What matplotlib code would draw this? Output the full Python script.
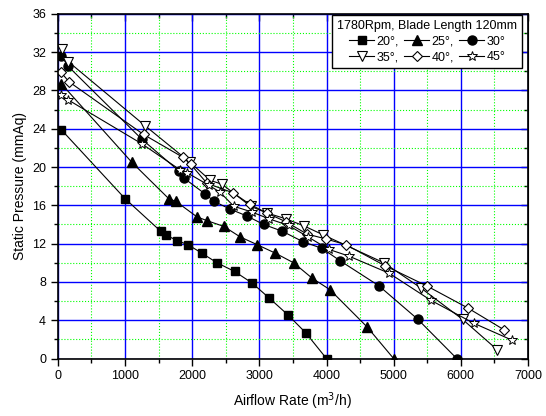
import matplotlib
matplotlib.use('Agg')
import matplotlib.pyplot as plt
from matplotlib.ticker import MultipleLocator

plt.rcParams['font.family'] = ['Liberation Sans', 'DejaVu Sans']

# 20 deg (filled square)
x20 = [50, 1000, 1530, 1610, 1780, 1935, 2145, 2370, 2630, 2890, 3150, 3420, 3690, 4000]
y20 = [23.9, 16.7, 13.3, 12.9, 12.3, 11.9, 11.0, 10.0, 9.1, 7.9, 6.3, 4.6, 2.7, 0.0]

# 25 deg (filled triangle up)
x25 = [50, 1100, 1650, 1760, 2070, 2220, 2470, 2715, 2965, 3240, 3510, 3785, 4050, 4605, 5000]
y25 = [28.7, 20.5, 16.7, 16.4, 14.8, 14.4, 13.8, 12.7, 11.9, 11.0, 10.0, 8.4, 7.2, 3.3, 0.0]

# 30 deg (filled circle)
x30 = [50, 155, 1250, 1800, 1885, 2190, 2330, 2565, 2810, 3065, 3340, 3650, 3935, 4205, 4780, 5360, 5940]
y30 = [31.6, 30.5, 22.9, 19.6, 18.8, 17.2, 16.4, 15.6, 14.9, 14.0, 13.3, 12.2, 11.5, 10.2, 7.6, 4.1, 0.0]

# 35 deg (open triangle down)
x35 = [55, 155, 1300, 1965, 2270, 2445, 2870, 3115, 3390, 3665, 3955, 4855, 5400, 6025, 6545]
y35 = [32.3, 31.0, 24.3, 20.5, 18.6, 18.2, 15.9, 15.2, 14.6, 13.85, 12.9, 10.0, 7.4, 4.1, 0.9]

# 40 deg (open diamond)
x40 = [45, 165, 1275, 1865, 1975, 2220, 2610, 2860, 3110, 3390, 3710, 3985, 4285, 4870, 5490, 6100, 6645]
y40 = [29.9, 28.9, 23.4, 21.0, 20.3, 18.3, 17.3, 16.1, 15.2, 14.3, 13.0, 12.5, 11.9, 9.7, 7.6, 5.3, 3.0]

# 45 deg (open star)
x45 = [45, 155, 1255, 1820, 1925, 2245, 2410, 2620, 2890, 3140, 3435, 3725, 4035, 4333, 4935, 5550, 6190, 6755]
y45 = [27.5, 27.0, 22.4, 19.7, 19.4, 18.1, 17.4, 15.9, 15.3, 14.6, 13.9, 12.7, 11.4, 10.7, 8.9, 6.1, 3.7, 1.95]

fig = plt.figure(figsize=(5.46, 4.16), dpi=100)
ax = fig.add_axes([0.106, 0.138, 0.861, 0.829])

h20, = ax.plot(x20, y20, color='black', lw=0.8, marker='s', ms=5.8, mfc='black', mec='black', label='20°,')
h25, = ax.plot(x25, y25, color='black', lw=0.8, marker='^', ms=6.5, mfc='black', mec='black', label='25°,')
h30, = ax.plot(x30, y30, color='black', lw=0.8, marker='o', ms=6.5, mfc='black', mec='black', label='30°')
h35, = ax.plot(x35, y35, color='black', lw=0.8, marker='v', ms=6.5, mfc='white', mec='black', mew=0.8, label='35°,')
h40, = ax.plot(x40, y40, color='black', lw=0.8, marker='D', ms=5.5, mfc='white', mec='black', mew=0.8, label='40°,')
h45, = ax.plot(x45, y45, color='black', lw=0.8, marker='*', ms=7.5, mfc='white', mec='black', mew=0.7, label='45°')

ax.set_xlim(0, 7000)
ax.set_ylim(0, 36)
ax.xaxis.set_major_locator(MultipleLocator(1000))
ax.xaxis.set_minor_locator(MultipleLocator(500))
ax.yaxis.set_major_locator(MultipleLocator(4))
ax.yaxis.set_minor_locator(MultipleLocator(2))

# grid: blue major, green dotted minor
ax.grid(which='major', color='blue', lw=1.0, ls='-')
ax.grid(which='minor', color='#00ff00', lw=0.8, ls=':')
ax.set_axisbelow(True)

ax.tick_params(which='both', direction='out', labelsize=9, colors='black', width=1)
ax.tick_params(which='major', length=5)
ax.tick_params(which='minor', length=3)

# inward ticks on top and right
axt = ax.secondary_xaxis('top')
axt.xaxis.set_major_locator(MultipleLocator(1000))
axt.xaxis.set_minor_locator(MultipleLocator(500))
axt.tick_params(which='both', direction='in', labeltop=False, width=1)
axt.tick_params(which='major', length=5)
axt.tick_params(which='minor', length=3)
axr = ax.secondary_yaxis('right')
axr.yaxis.set_major_locator(MultipleLocator(4))
axr.yaxis.set_minor_locator(MultipleLocator(2))
axr.tick_params(which='both', direction='in', labelright=False, width=1)
axr.tick_params(which='major', length=5)
axr.tick_params(which='minor', length=3)

for s in ax.spines.values():
    s.set_linewidth(1.2)

ax.set_xlabel('Airflow Rate (m$^3$/h)', fontsize=10, labelpad=6)
ax.set_ylabel('Static Pressure (mmAq)', fontsize=10, labelpad=4)

# legend rows: 20,25,30 / 35,40,45 (column-major fill)
leg = ax.legend([h20, h35, h25, h40, h30, h45],
                ['20°,', '35°,', '25°,', '40°,', '30°', '45°'],
                ncol=3, loc='upper right', bbox_to_anchor=(0.988, 0.997),
                title='1780Rpm, Blade Length 120mm',
                fontsize=9, title_fontsize=9, fancybox=False, framealpha=1,
                edgecolor='black', borderaxespad=0, handlelength=2.0,
                handletextpad=0.2, columnspacing=0.4, labelspacing=0.3,
                borderpad=0.4)
leg.get_frame().set_linewidth(1.0)

fig.savefig('out.png', dpi=100)
